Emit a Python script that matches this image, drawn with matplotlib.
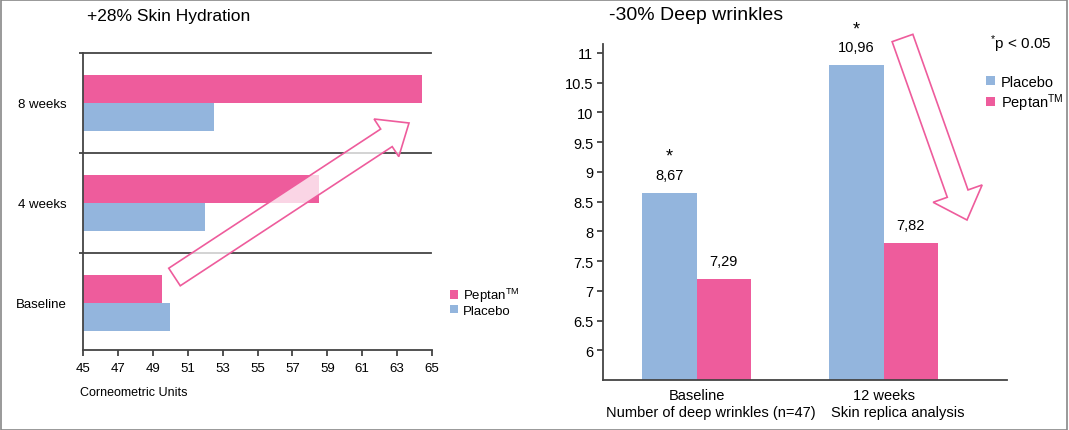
import numpy as np
import matplotlib.pyplot as plt
from matplotlib.patches import FancyArrow, Rectangle

plt.rcParams["font.family"] = ["Liberation Sans", "DejaVu Sans"]
plt.rcParams["mathtext.fontset"] = "custom"
plt.rcParams["mathtext.rm"] = "Liberation Sans"
plt.rcParams["mathtext.it"] = "Liberation Sans"

PINK = "#EE5C9C"
BLUE = "#93B5DD"
PEPTAN = r"Peptan$^{\mathrm{TM}}$"

# left panel: skin hydration (corneometric units)
hyd_periods = ["Baseline", "4 weeks", "8 weeks"]
hyd_peptan = [49.5, 58.5, 64.4]
hyd_placebo = [50.0, 52.0, 52.5]
hyd_ticks = [45, 47, 49, 51, 53, 55, 57, 59, 61, 63, 65]

# right panel: deep wrinkles (bar heights as drawn, labels as printed)
wr_periods = ["Baseline", "12 weeks"]
wr_notes = ["Number of deep wrinkles (n=47)", "Skin replica analysis"]
wr_placebo = [8.65, 10.8]
wr_peptan = [7.2, 7.8]
wr_placebo_lbl = ["8,67", "10,96"]
wr_peptan_lbl = ["7,29", "7,82"]
wr_ticks = [6, 6.5, 7, 7.5, 8, 8.5, 9, 9.5, 10, 10.5, 11]

W, H = 1069, 431
fig = plt.figure(figsize=(W / 100, H / 100), dpi=100)

# ---- left: horizontal bars
ax1 = fig.add_axes([83 / W, 1 - 351 / H, (432 - 83) / W, (351 - 54) / H])
y = np.arange(len(hyd_periods))
bh = 0.28
base = hyd_ticks[0]
ax1.barh(y + bh / 2, np.array(hyd_peptan) - base, left=base, height=bh, color=PINK, label=PEPTAN)
ax1.barh(y - bh / 2, np.array(hyd_placebo) - base, left=base, height=bh, color=BLUE, label="Placebo")
ax1.set_xlim(45, 65)
ax1.set_ylim(-0.47, 2.5)
for yy in [0.5, 1.5, 2.5]:
    ax1.axhline(yy, xmin=0, xmax=0.997, color="#444444", lw=1.3, clip_on=False)
ax1.set_yticks(y)
ax1.set_yticklabels(hyd_periods, fontsize=9.5)
ax1.tick_params(axis="y", length=0, pad=12)
ax1.set_yticks([0.5, 1.5, 2.5], minor=True)
ax1.tick_params(axis="y", which="minor", length=3, width=1.3, color="#444444")
ax1.set_xticks(hyd_ticks)
ax1.set_xticklabels([str(t) for t in hyd_ticks], fontsize=9.5)
ax1.tick_params(axis="x", length=4, width=1.3, color="#444444", pad=5)
for s in ["top", "right"]:
    ax1.spines[s].set_visible(False)
for s in ["left", "bottom"]:
    ax1.spines[s].set_color("#444444")
    ax1.spines[s].set_linewidth(1.3)
fig.text(80 / W, 1 - 393 / H, "Corneometric Units", fontsize=9, va="center", ha="left")
fig.text(87 / W, 1 - 16 / H, "+28% Skin Hydration", fontsize=12.5, va="center", ha="left")
ax1.legend(loc="upper left", bbox_to_anchor=(450 / W, 1 - 287 / H), bbox_transform=fig.transFigure,
           frameon=False, fontsize=9.5, handlelength=0.6, handleheight=0.6, handletextpad=0.4,
           labelspacing=0.05, borderpad=0, borderaxespad=0)

# ---- right: vertical bars
ax2 = fig.add_axes([603 / W, 1 - 381 / H, (1007 - 603) / W, (381 - 45) / H])
x = np.arange(len(wr_periods))
bw = 0.29
ymin = 5.5
b1 = ax2.bar(x - bw / 2, np.array(wr_placebo) - ymin, bottom=ymin, width=bw, color=BLUE, label="Placebo")
b2 = ax2.bar(x + bw / 2, np.array(wr_peptan) - ymin, bottom=ymin, width=bw, color=PINK, label=PEPTAN)
ax2.set_xlim(-0.5, 1.66)
ax2.set_ylim(ymin, 11.15)
for rect, lbl in zip(b1, wr_placebo_lbl):
    cx = rect.get_x() + rect.get_width() / 2
    top = rect.get_y() + rect.get_height()
    ax2.annotate(lbl, (cx, top), xytext=(0, 8), textcoords="offset points",
                 ha="center", va="bottom", fontsize=10.5)
    ax2.annotate("*", (cx, top), xytext=(0, 20), textcoords="offset points",
                 ha="center", va="bottom", fontsize=13)
for rect, lbl in zip(b2, wr_peptan_lbl):
    cx = rect.get_x() + rect.get_width() / 2
    top = rect.get_y() + rect.get_height()
    ax2.annotate(lbl, (cx, top), xytext=(0, 8), textcoords="offset points",
                 ha="center", va="bottom", fontsize=10.5)
ax2.set_yticks(wr_ticks)
ax2.set_yticklabels([f"{t:g}" for t in wr_ticks], fontsize=10.5)
ax2.tick_params(axis="y", length=4, width=1.3, color="#444444", pad=3)
ax2.set_xticks(x)
ax2.set_xticklabels(wr_periods, fontsize=10.5)
ax2.tick_params(axis="x", length=0, pad=6)
for xi, note in zip(x, wr_notes):
    ax2.annotate(note, (xi, ymin), xytext=(10, -18), textcoords="offset points",
                 ha="center", va="top", fontsize=10.5, annotation_clip=False)
for s in ["top", "right"]:
    ax2.spines[s].set_visible(False)
for s in ["left", "bottom"]:
    ax2.spines[s].set_color("#444444")
    ax2.spines[s].set_linewidth(1.3)
fig.text(609 / W, 1 - 16 / H, "-30% Deep wrinkles", fontsize=14, va="center", ha="left")
fig.text(990 / W, 1 - 44 / H, r"$^{*}$p < 0.05", fontsize=11, va="center", ha="left")
ax2.legend(loc="upper left", bbox_to_anchor=(986 / W, 1 - 76 / H), bbox_transform=fig.transFigure,
           frameon=False, fontsize=10.5, handlelength=0.6, handleheight=0.6, handletextpad=0.4,
           labelspacing=0.15, borderpad=0, borderaxespad=0)

# ---- outlined arrows (figure inches)
def outline_arrow(x0, y0, x1, y1, width, head_w, head_l):
    x0, y0, x1, y1 = x0 / 100, (H - y0) / 100, x1 / 100, (H - y1) / 100
    arr = FancyArrow(x0, y0, x1 - x0, y1 - y0, width=width, head_width=head_w,
                     head_length=head_l, length_includes_head=True,
                     transform=fig.dpi_scale_trans, facecolor=(1, 1, 1, 0.75),
                     edgecolor=PINK, lw=1.2, zorder=10)
    fig.add_artist(arr)

outline_arrow(174.5, 278, 409, 124, 0.21, 0.45, 0.27)
outline_arrow(902.5, 39, 967, 221, 0.22, 0.52, 0.28)

# frame around the whole graphic
fig.add_artist(Rectangle((0.0005, 0.001), 0.998, 0.997, transform=fig.transFigure,
                         fill=False, edgecolor="#888888", lw=1.2))

fig.savefig("out.png", dpi=100)
